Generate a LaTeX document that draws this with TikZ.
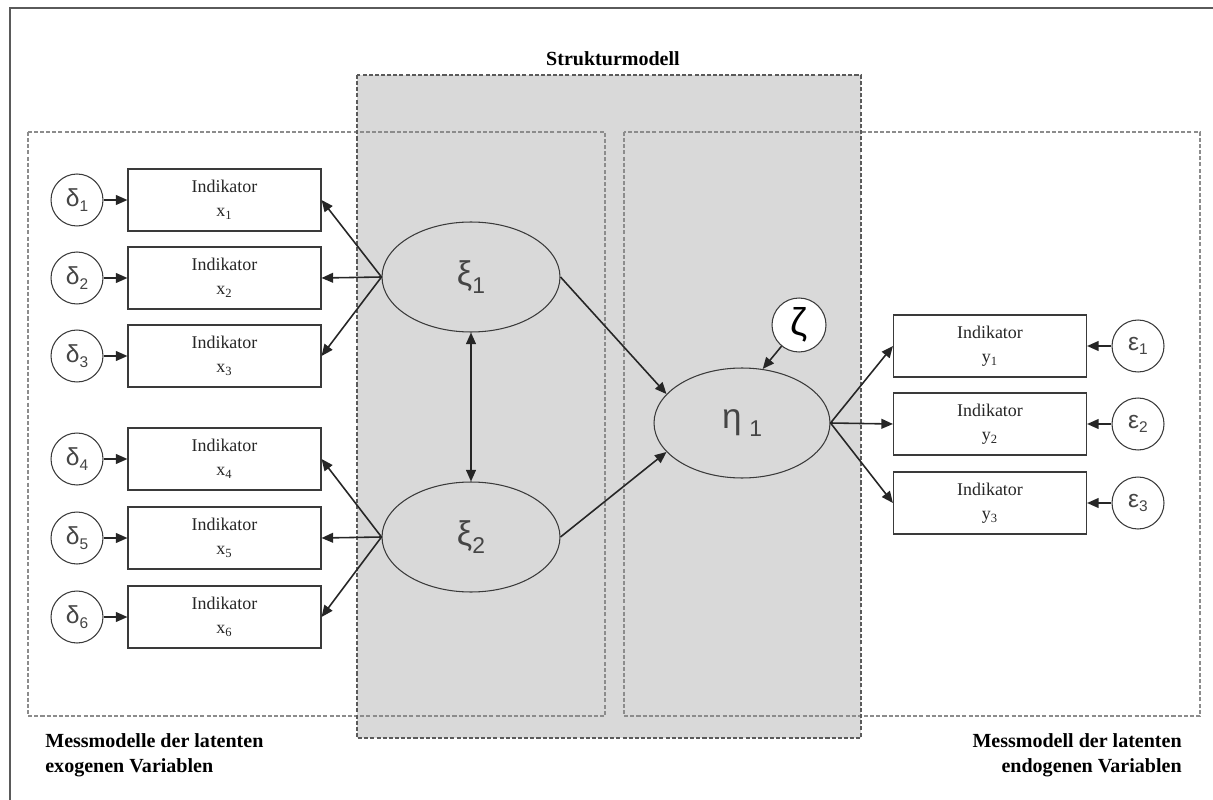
\documentclass[tikz,border=0pt]{standalone}
\usepackage{fontspec}
\setmainfont{Liberation Serif}
\newfontfamily\grk{Liberation Sans}
\usetikzlibrary{shapes.geometric,arrows.meta}

\definecolor{panel}{HTML}{D9D9D9}
\definecolor{ink}{HTML}{262626}
\definecolor{boxline}{HTML}{3A3A3A}
\definecolor{greekgray}{HTML}{454545}
\definecolor{dashgray}{HTML}{8C8C8C}
\definecolor{framegray}{HTML}{5A5A5A}

% Greek symbol with a lowered index, for error terms and latent variables
\newcommand\errsym[2]{\grk\fontsize{14}{14}\selectfont #1\raisebox{-2.6pt}{\fontsize{8.8}{8.8}\selectfont #2}}
\newcommand\latsym[2]{\grk\fontsize{19.5}{19.5}\selectfont #1\raisebox{-4.5pt}{\fontsize{13}{13}\selectfont #2}}
% two-line indicator caption
\newcommand\indtext[2]{\raisebox{-1.8pt}{\begin{tabular}{@{}c@{}}Indikator\\#1\textsubscript{#2}\end{tabular}}}

\tikzset{
  >={Triangle[length=6.6pt,width=5.6pt]},
  indbox/.style={draw=boxline, line width=0.65pt, fill=white,
    minimum width=3.86cm, minimum height=1.24cm, inner sep=0pt,
    text=ink, font=\fontsize{10.2}{13.6}\selectfont},
  errcirc/.style={circle, draw=boxline, line width=0.6pt, fill=white,
    minimum size=1.04cm, inner sep=0pt, text=greekgray},
  latent/.style={ellipse, draw=boxline, line width=0.6pt,
    minimum width=3.56cm, minimum height=2.2cm, inner sep=0pt, text=greekgray},
  arr/.style={draw=ink, line width=0.9pt, ->},
  zone/.style={draw=dashgray, line width=0.6pt, dash pattern=on 2.3pt off 1.2pt},
  heading/.style={inner sep=0pt, text=black,
    font=\fontsize{11.4}{14.2}\selectfont\bfseries}
}

\begin{document}
\begin{tikzpicture}[x=0.02cm,y=-0.02cm]
\useasboundingbox (0,0) rectangle (1213,800);

% outer frame (left and top edges)
\draw[framegray, line width=1.1pt] (10,800) -- (10,8) -- (1213,8);

% structural model panel and the two measurement zones
\fill[panel] (357,75) rectangle (861,738);
\draw[zone] (28,132) rectangle (605,716);
\draw[zone] (624,132) rectangle (1200,716);
\draw[zone, draw=framegray] (357,75) rectangle (861,738);

% headings
\node[heading, anchor=base] (hstruct) at (613,66) {Strukturmodell};
\node[heading, anchor=north west, align=left] (hexo) at (45,733)
  {Messmodelle der latenten\\exogenen Variablen};
\node[heading, anchor=north east, align=right] (hendo) at (1182,733)
  {Messmodell der latenten\\endogenen Variablen};

% exogenous indicators
\node[indbox] (x1) at (224.5,200) {\indtext{x}{1}};
\node[indbox] (x2) at (224.5,278) {\indtext{x}{2}};
\node[indbox] (x3) at (224.5,356) {\indtext{x}{3}};
\node[indbox] (x4) at (224.5,459) {\indtext{x}{4}};
\node[indbox] (x5) at (224.5,538) {\indtext{x}{5}};
\node[indbox] (x6) at (224.5,617) {\indtext{x}{6}};

% measurement errors of the x indicators
\node[errcirc] (d1) at (77,200) {\errsym{δ}{1}};
\node[errcirc] (d2) at (77,278) {\errsym{δ}{2}};
\node[errcirc] (d3) at (77,356) {\errsym{δ}{3}};
\node[errcirc] (d4) at (77,459) {\errsym{δ}{4}};
\node[errcirc] (d5) at (77,538) {\errsym{δ}{5}};
\node[errcirc] (d6) at (77,617) {\errsym{δ}{6}};

% endogenous indicators
\node[indbox] (y1) at (990,346) {\indtext{y}{1}};
\node[indbox] (y2) at (990,424) {\indtext{y}{2}};
\node[indbox] (y3) at (990,503) {\indtext{y}{3}};

% measurement errors of the y indicators
\node[errcirc] (e1) at (1138,346) {\errsym{ε}{1}};
\node[errcirc] (e2) at (1138,424) {\errsym{ε}{2}};
\node[errcirc] (e3) at (1138,503) {\errsym{ε}{3}};

% latent variables
\node[latent] (xi1) at (471,277) {\latsym{ξ}{1}};
\node[latent] (xi2) at (471,537) {\latsym{ξ}{2}};
\node[latent, minimum width=3.52cm] (eta) at (742,423)
  {\grk\fontsize{20}{20}\selectfont η\hspace{0.22em}\raisebox{-5pt}{\fontsize{13}{13}\selectfont 1}};
\node[errcirc, minimum size=1.08cm, text=black] (zeta) at (799,325)
  {\grk\fontsize{22}{22}\selectfont ζ};

% error terms into indicators
\foreach \i in {1,...,6} \draw[arr] (d\i) -- (x\i);
\foreach \i in {1,2,3} \draw[arr] (e\i) -- (y\i);

% loadings
\foreach \i in {1,2,3} \draw[arr] (xi1.west) -- (x\i.east);
\foreach \i in {4,5,6} \draw[arr] (xi2.west) -- (x\i.east);
\foreach \i in {1,2,3} \draw[arr] (eta.east) -- (y\i.west);

% structural paths
\draw[arr] (xi1.east) -- (eta.159);
\draw[arr] (xi2.east) -- (eta.201);
\draw[arr, <->] (xi1.south) -- (xi2.north);
\draw[arr] (zeta) -- (eta.69);
\end{tikzpicture}
\end{document}
